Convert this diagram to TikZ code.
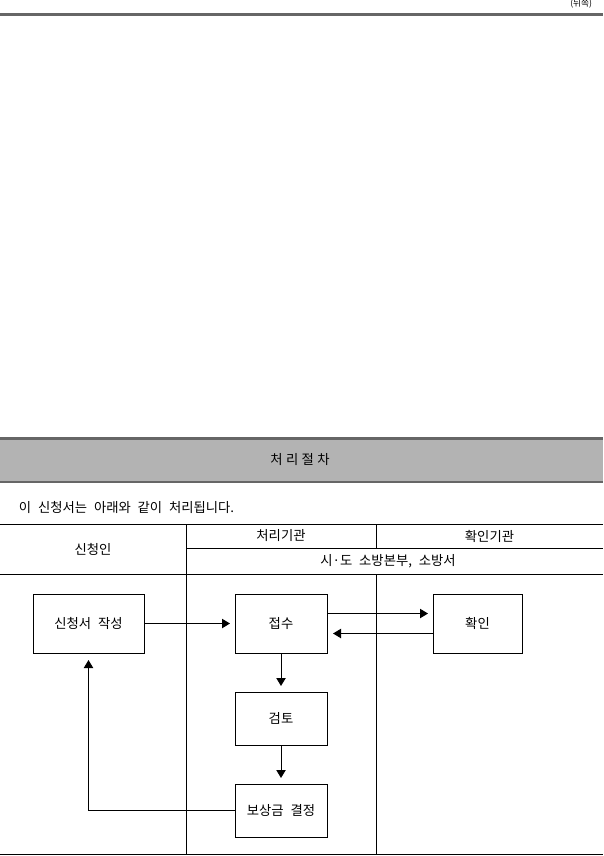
\documentclass[tikz,border=0pt]{standalone}
\usepackage{fontspec}
\setmainfont{Noto Sans CJK KR}[WordSpace=2.3]
\usetikzlibrary{positioning,arrows.meta}
\definecolor{rule}{HTML}{666666}
\definecolor{band}{HTML}{B3B3B3}

\begin{document}
\begin{tikzpicture}[x=0.75pt,y=-0.75pt,line width=0.75pt,
	font=\fontsize{10}{12}\selectfont,
	proc/.style = {draw, rectangle, inner sep=0pt, outer sep=0pt, minimum width=69pt, minimum height=44.25pt},
	arr/.style = {-{Triangle[length=6pt,width=7pt]}}]
	\useasboundingbox (0,0) rectangle (603,856);
	% page head
	\node[anchor=east] (back) at (597,4) {\fontsize{6.5}{7}\selectfont(뒤쪽)};
	\draw[rule, line width=2.25pt] (0,14.5) -- (603,14.5);
	% title band
	\fill[band] (0,438) rectangle (603,482);
	\draw[rule, line width=2.25pt] (0,438) -- (603,438);
	\draw[rule, line width=1.5pt] (0,481.5) -- (603,481.5);
	\node (title) at (300,460) {처\kern2.5pt 리\kern2.5pt 절\kern2.5pt 차};
	\node[anchor=west] (note) at (14,507) {이 신청서는 아래와 같이 처리됩니다.};
	% table
	\draw (0,524) -- (603,524);
	\draw (186,548) -- (603,548);
	\draw (0,574) -- (603,574);
	\draw[line width=1.1pt] (0,854.5) -- (603,854.5);
	\draw (186,524) -- (186,854);
	\draw (376,524) -- (376,548);
	\draw (376,574) -- (376,854);
	\node (h1) at (93,549) {신청인};
	\node (h2) at (281,536) {처리기관};
	\node (h3) at (489.5,536) {확인기관};
	\node (h4) at (388,561) {시·도 소방본부, 소방서};
	% steps
	\node[proc, minimum width=83.25pt] (1) at (88.5,623.5) {신청서 작성};
	\node[proc] (2) [right=68.25pt of 1] {접수};
	\node[proc, minimum width=66.75pt] (3) [right=79.5pt of 2] {확인};
	\node[proc, minimum height=39.75pt] (4) [below=29.25pt of 2] {검토};
	\node[proc, minimum height=39.75pt] (5) [below=29.25pt of 4] {보상금 결정};
	\draw[arr, shorten >=3.75pt] (1) -- (2);
	\draw[arr, shorten >=3.75pt] ([yshift=7.5pt]2.east) -- ([yshift=7.5pt]3.west);
	\draw[arr, shorten >=4.5pt] ([yshift=-7.5pt]3.west) -- ([yshift=-7.5pt]2.east);
	\draw[arr, shorten >=4.5pt] (2) -- (4);
	\draw[arr, shorten >=4.5pt] (4) -- (5);
	\draw[arr, shorten >=5.25pt] (5) -| (1);
\end{tikzpicture}
\end{document}
